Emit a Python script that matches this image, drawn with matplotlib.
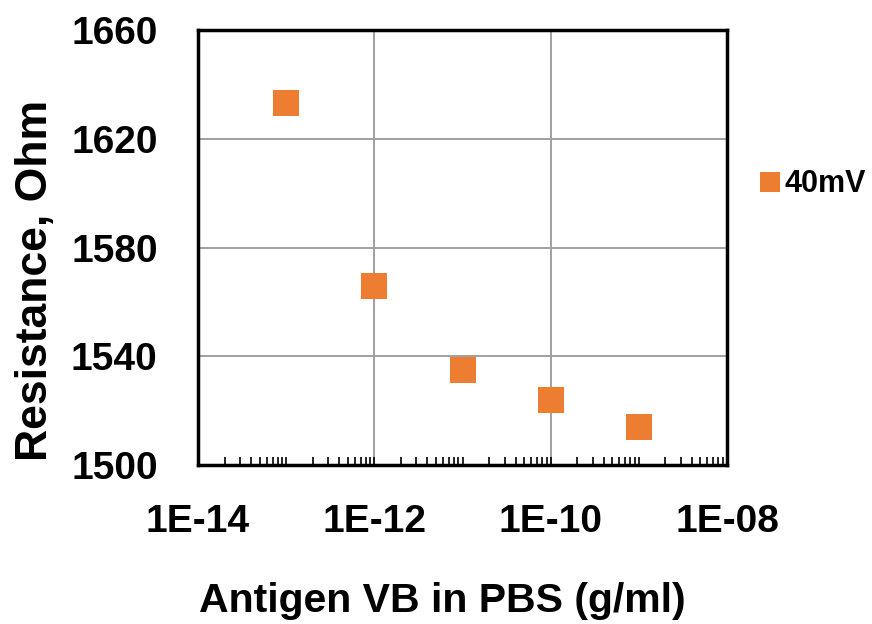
import numpy as np
import matplotlib
matplotlib.use('Agg')
import matplotlib.pyplot as plt
from matplotlib.ticker import FixedLocator, NullFormatter

# Resistance vs antigen concentration at 40 mV
conc = [1e-13, 1e-12, 1e-11, 1e-10, 1e-9]
resistance = [1633, 1566, 1535, 1524, 1514]
series_name = '40mV'
x_labels = ['1E-14', '1E-12', '1E-10', '1E-08']
x_major = [1e-14, 1e-12, 1e-10, 1e-8]
y_ticks = [1500, 1540, 1580, 1620, 1660]

plt.rcParams['font.family'] = ['Liberation Sans', 'DejaVu Sans']
plt.rcParams['font.weight'] = 'bold'

fig = plt.figure(figsize=(8.72, 6.24), dpi=100)
ax = fig.add_axes([198 / 872, 1 - 465 / 624, (727 - 198) / 872, (465 - 30) / 624])

ax.plot(conc, resistance, 's', color='#ED7D31', markersize=19,
        markeredgewidth=0, label=series_name, zorder=3)

ax.set_xscale('log')
ax.set_xlim(1e-14, 1e-8)
ax.set_ylim(1500, 1660)

# labelled decades carry gridlines; every other decade plus 2..9 get small ticks
ax.xaxis.set_major_locator(FixedLocator(x_major))
ax.set_xticklabels(x_labels)
minor = []
for e in range(-14, -8):
    minor += [m * 10.0 ** e for m in range(2, 10)]
    if e % 2 != 0:
        minor.append(10.0 ** e)
ax.xaxis.set_minor_locator(FixedLocator(minor))
ax.xaxis.set_minor_formatter(NullFormatter())

ax.set_yticks(y_ticks)

ax.tick_params(axis='x', which='both', direction='in', length=6, width=1.2,
               labelsize=28, pad=28, top=False)
ax.tick_params(axis='y', which='both', length=0, labelsize=28, pad=29)

ax.grid(True, which='major', color='#a0a0a0', linewidth=1.4)
for s in ax.spines.values():
    s.set_linewidth(2.5)
    s.set_color('black')

ax.set_xlabel('Antigen VB in PBS (g/ml)', fontsize=29.5, fontweight='bold')
ax.xaxis.set_label_coords(0.461, -0.268)
ax.set_ylabel('Resistance, Ohm', fontsize=32, fontweight='bold')
ax.yaxis.set_label_coords(-0.269, 0.425)

ax.legend(loc='center left', bbox_to_anchor=(1.04, 0.645), frameon=False,
          fontsize=22, markerscale=0.75, handlelength=0.6, handletextpad=0.2,
          borderaxespad=0)

fig.savefig('out.png', dpi=100)
